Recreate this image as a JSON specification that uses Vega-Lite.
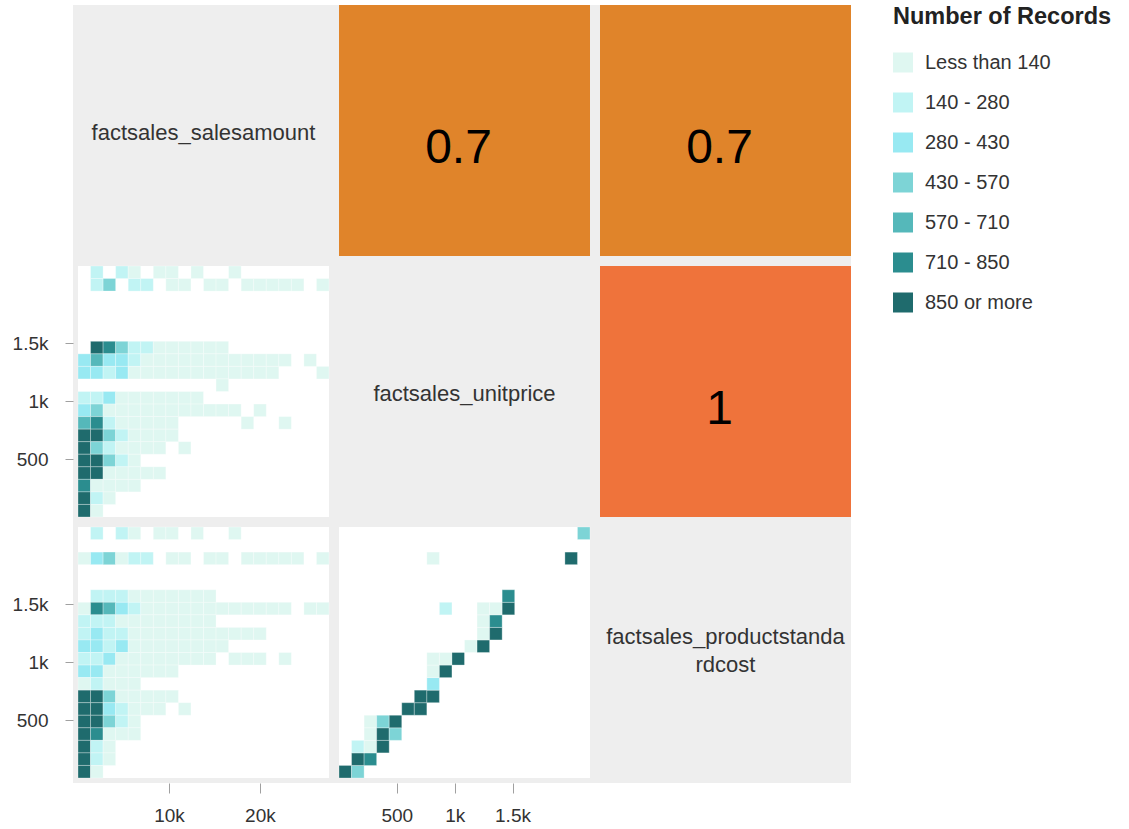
{
  "$schema": "https://vega.github.io/schema/vega-lite/v6.json",
  "padding": {"left": 12, "top": 5, "right": 10, "bottom": 5},
  "bounds": "flush",
  "spacing": 0,
  "columns": 3,
  "config": {
    "font": "Liberation Sans",
    "view": {"fill": "#eeeeee", "stroke": null},
    "axis": {"domain": false, "grid": false, "tickColor": "#a0a0a0", "tickWidth": 1, "labelFont": "Liberation Sans", "labelFontSize": 19, "labelColor": "#333333"},
    "axisLeft": {"tickSize": 8, "labelPadding": 17},
    "axisBottom": {"tickSize": 10, "labelPadding": 13},
    "legend": {"orient": "right", "offset": 42, "padding": 0, "titleFont": "Liberation Sans", "titleFontSize": 23.5, "titleFontWeight": "bold", "titleColor": "#222222", "titlePadding": 24, "titleLimit": 400, "labelFont": "Liberation Sans", "labelFontSize": 20, "labelColor": "#333333", "labelOffset": 12, "labelLimit": 300, "symbolType": "square", "symbolSize": 400, "symbolStrokeWidth": 0, "symbolOpacity": 1, "rowPadding": 20}
  },
  "datasets": {
    "sales_price": [
      {"sales":1380,"sales_end":2760,"price":2061.5,"price_end":2170,"level":"140 - 280"},
      {"sales":4140,"sales_end":5520,"price":2061.5,"price_end":2170,"level":"140 - 280"},
      {"sales":5520,"sales_end":6900,"price":2061.5,"price_end":2170,"level":"Less than 140"},
      {"sales":8280,"sales_end":9660,"price":2061.5,"price_end":2170,"level":"Less than 140"},
      {"sales":9660,"sales_end":11040,"price":2061.5,"price_end":2170,"level":"Less than 140"},
      {"sales":12420,"sales_end":13800,"price":2061.5,"price_end":2170,"level":"Less than 140"},
      {"sales":16560,"sales_end":17940,"price":2061.5,"price_end":2170,"level":"Less than 140"},
      {"sales":1380,"sales_end":2760,"price":1953,"price_end":2061.5,"level":"140 - 280"},
      {"sales":2760,"sales_end":4140,"price":1953,"price_end":2061.5,"level":"430 - 570"},
      {"sales":5520,"sales_end":6900,"price":1953,"price_end":2061.5,"level":"140 - 280"},
      {"sales":6900,"sales_end":8280,"price":1953,"price_end":2061.5,"level":"140 - 280"},
      {"sales":9660,"sales_end":11040,"price":1953,"price_end":2061.5,"level":"Less than 140"},
      {"sales":11040,"sales_end":12420,"price":1953,"price_end":2061.5,"level":"Less than 140"},
      {"sales":13800,"sales_end":15180,"price":1953,"price_end":2061.5,"level":"Less than 140"},
      {"sales":15180,"sales_end":16560,"price":1953,"price_end":2061.5,"level":"Less than 140"},
      {"sales":17940,"sales_end":19320,"price":1953,"price_end":2061.5,"level":"Less than 140"},
      {"sales":19320,"sales_end":20700,"price":1953,"price_end":2061.5,"level":"Less than 140"},
      {"sales":20700,"sales_end":22080,"price":1953,"price_end":2061.5,"level":"Less than 140"},
      {"sales":22080,"sales_end":23460,"price":1953,"price_end":2061.5,"level":"Less than 140"},
      {"sales":23460,"sales_end":24840,"price":1953,"price_end":2061.5,"level":"Less than 140"},
      {"sales":26220,"sales_end":27600,"price":1953,"price_end":2061.5,"level":"Less than 140"},
      {"sales":1380,"sales_end":2760,"price":1410.5,"price_end":1519,"level":"850 or more"},
      {"sales":2760,"sales_end":4140,"price":1410.5,"price_end":1519,"level":"710 - 850"},
      {"sales":4140,"sales_end":5520,"price":1410.5,"price_end":1519,"level":"430 - 570"},
      {"sales":5520,"sales_end":6900,"price":1410.5,"price_end":1519,"level":"140 - 280"},
      {"sales":6900,"sales_end":8280,"price":1410.5,"price_end":1519,"level":"140 - 280"},
      {"sales":8280,"sales_end":9660,"price":1410.5,"price_end":1519,"level":"Less than 140"},
      {"sales":9660,"sales_end":11040,"price":1410.5,"price_end":1519,"level":"Less than 140"},
      {"sales":11040,"sales_end":12420,"price":1410.5,"price_end":1519,"level":"Less than 140"},
      {"sales":12420,"sales_end":13800,"price":1410.5,"price_end":1519,"level":"Less than 140"},
      {"sales":13800,"sales_end":15180,"price":1410.5,"price_end":1519,"level":"Less than 140"},
      {"sales":15180,"sales_end":16560,"price":1410.5,"price_end":1519,"level":"Less than 140"},
      {"sales":0,"sales_end":1380,"price":1302,"price_end":1410.5,"level":"280 - 430"},
      {"sales":1380,"sales_end":2760,"price":1302,"price_end":1410.5,"level":"570 - 710"},
      {"sales":2760,"sales_end":4140,"price":1302,"price_end":1410.5,"level":"280 - 430"},
      {"sales":4140,"sales_end":5520,"price":1302,"price_end":1410.5,"level":"280 - 430"},
      {"sales":5520,"sales_end":6900,"price":1302,"price_end":1410.5,"level":"140 - 280"},
      {"sales":6900,"sales_end":8280,"price":1302,"price_end":1410.5,"level":"Less than 140"},
      {"sales":8280,"sales_end":9660,"price":1302,"price_end":1410.5,"level":"Less than 140"},
      {"sales":9660,"sales_end":11040,"price":1302,"price_end":1410.5,"level":"Less than 140"},
      {"sales":11040,"sales_end":12420,"price":1302,"price_end":1410.5,"level":"Less than 140"},
      {"sales":12420,"sales_end":13800,"price":1302,"price_end":1410.5,"level":"Less than 140"},
      {"sales":13800,"sales_end":15180,"price":1302,"price_end":1410.5,"level":"Less than 140"},
      {"sales":15180,"sales_end":16560,"price":1302,"price_end":1410.5,"level":"Less than 140"},
      {"sales":16560,"sales_end":17940,"price":1302,"price_end":1410.5,"level":"Less than 140"},
      {"sales":17940,"sales_end":19320,"price":1302,"price_end":1410.5,"level":"Less than 140"},
      {"sales":19320,"sales_end":20700,"price":1302,"price_end":1410.5,"level":"Less than 140"},
      {"sales":20700,"sales_end":22080,"price":1302,"price_end":1410.5,"level":"Less than 140"},
      {"sales":22080,"sales_end":23460,"price":1302,"price_end":1410.5,"level":"Less than 140"},
      {"sales":24840,"sales_end":26220,"price":1302,"price_end":1410.5,"level":"Less than 140"},
      {"sales":0,"sales_end":1380,"price":1193.5,"price_end":1302,"level":"280 - 430"},
      {"sales":1380,"sales_end":2760,"price":1193.5,"price_end":1302,"level":"280 - 430"},
      {"sales":2760,"sales_end":4140,"price":1193.5,"price_end":1302,"level":"140 - 280"},
      {"sales":4140,"sales_end":5520,"price":1193.5,"price_end":1302,"level":"280 - 430"},
      {"sales":5520,"sales_end":6900,"price":1193.5,"price_end":1302,"level":"Less than 140"},
      {"sales":6900,"sales_end":8280,"price":1193.5,"price_end":1302,"level":"Less than 140"},
      {"sales":8280,"sales_end":9660,"price":1193.5,"price_end":1302,"level":"Less than 140"},
      {"sales":9660,"sales_end":11040,"price":1193.5,"price_end":1302,"level":"Less than 140"},
      {"sales":11040,"sales_end":12420,"price":1193.5,"price_end":1302,"level":"Less than 140"},
      {"sales":12420,"sales_end":13800,"price":1193.5,"price_end":1302,"level":"Less than 140"},
      {"sales":13800,"sales_end":15180,"price":1193.5,"price_end":1302,"level":"Less than 140"},
      {"sales":15180,"sales_end":16560,"price":1193.5,"price_end":1302,"level":"Less than 140"},
      {"sales":16560,"sales_end":17940,"price":1193.5,"price_end":1302,"level":"Less than 140"},
      {"sales":17940,"sales_end":19320,"price":1193.5,"price_end":1302,"level":"Less than 140"},
      {"sales":19320,"sales_end":20700,"price":1193.5,"price_end":1302,"level":"Less than 140"},
      {"sales":20700,"sales_end":22080,"price":1193.5,"price_end":1302,"level":"Less than 140"},
      {"sales":26220,"sales_end":27600,"price":1193.5,"price_end":1302,"level":"Less than 140"},
      {"sales":15180,"sales_end":16560,"price":1085,"price_end":1193.5,"level":"Less than 140"},
      {"sales":0,"sales_end":1380,"price":976.5,"price_end":1085,"level":"140 - 280"},
      {"sales":1380,"sales_end":2760,"price":976.5,"price_end":1085,"level":"140 - 280"},
      {"sales":2760,"sales_end":4140,"price":976.5,"price_end":1085,"level":"280 - 430"},
      {"sales":4140,"sales_end":5520,"price":976.5,"price_end":1085,"level":"Less than 140"},
      {"sales":5520,"sales_end":6900,"price":976.5,"price_end":1085,"level":"Less than 140"},
      {"sales":6900,"sales_end":8280,"price":976.5,"price_end":1085,"level":"Less than 140"},
      {"sales":8280,"sales_end":9660,"price":976.5,"price_end":1085,"level":"Less than 140"},
      {"sales":9660,"sales_end":11040,"price":976.5,"price_end":1085,"level":"Less than 140"},
      {"sales":11040,"sales_end":12420,"price":976.5,"price_end":1085,"level":"Less than 140"},
      {"sales":12420,"sales_end":13800,"price":976.5,"price_end":1085,"level":"Less than 140"},
      {"sales":0,"sales_end":1380,"price":868,"price_end":976.5,"level":"280 - 430"},
      {"sales":1380,"sales_end":2760,"price":868,"price_end":976.5,"level":"430 - 570"},
      {"sales":2760,"sales_end":4140,"price":868,"price_end":976.5,"level":"Less than 140"},
      {"sales":4140,"sales_end":5520,"price":868,"price_end":976.5,"level":"Less than 140"},
      {"sales":5520,"sales_end":6900,"price":868,"price_end":976.5,"level":"Less than 140"},
      {"sales":6900,"sales_end":8280,"price":868,"price_end":976.5,"level":"Less than 140"},
      {"sales":8280,"sales_end":9660,"price":868,"price_end":976.5,"level":"Less than 140"},
      {"sales":9660,"sales_end":11040,"price":868,"price_end":976.5,"level":"Less than 140"},
      {"sales":11040,"sales_end":12420,"price":868,"price_end":976.5,"level":"Less than 140"},
      {"sales":12420,"sales_end":13800,"price":868,"price_end":976.5,"level":"Less than 140"},
      {"sales":13800,"sales_end":15180,"price":868,"price_end":976.5,"level":"Less than 140"},
      {"sales":15180,"sales_end":16560,"price":868,"price_end":976.5,"level":"Less than 140"},
      {"sales":16560,"sales_end":17940,"price":868,"price_end":976.5,"level":"Less than 140"},
      {"sales":19320,"sales_end":20700,"price":868,"price_end":976.5,"level":"Less than 140"},
      {"sales":0,"sales_end":1380,"price":759.5,"price_end":868,"level":"570 - 710"},
      {"sales":1380,"sales_end":2760,"price":759.5,"price_end":868,"level":"710 - 850"},
      {"sales":2760,"sales_end":4140,"price":759.5,"price_end":868,"level":"140 - 280"},
      {"sales":4140,"sales_end":5520,"price":759.5,"price_end":868,"level":"Less than 140"},
      {"sales":5520,"sales_end":6900,"price":759.5,"price_end":868,"level":"Less than 140"},
      {"sales":6900,"sales_end":8280,"price":759.5,"price_end":868,"level":"Less than 140"},
      {"sales":8280,"sales_end":9660,"price":759.5,"price_end":868,"level":"Less than 140"},
      {"sales":9660,"sales_end":11040,"price":759.5,"price_end":868,"level":"Less than 140"},
      {"sales":17940,"sales_end":19320,"price":759.5,"price_end":868,"level":"Less than 140"},
      {"sales":22080,"sales_end":23460,"price":759.5,"price_end":868,"level":"Less than 140"},
      {"sales":0,"sales_end":1380,"price":651,"price_end":759.5,"level":"850 or more"},
      {"sales":1380,"sales_end":2760,"price":651,"price_end":759.5,"level":"850 or more"},
      {"sales":2760,"sales_end":4140,"price":651,"price_end":759.5,"level":"430 - 570"},
      {"sales":4140,"sales_end":5520,"price":651,"price_end":759.5,"level":"140 - 280"},
      {"sales":5520,"sales_end":6900,"price":651,"price_end":759.5,"level":"Less than 140"},
      {"sales":6900,"sales_end":8280,"price":651,"price_end":759.5,"level":"Less than 140"},
      {"sales":8280,"sales_end":9660,"price":651,"price_end":759.5,"level":"Less than 140"},
      {"sales":9660,"sales_end":11040,"price":651,"price_end":759.5,"level":"Less than 140"},
      {"sales":0,"sales_end":1380,"price":542.5,"price_end":651,"level":"850 or more"},
      {"sales":1380,"sales_end":2760,"price":542.5,"price_end":651,"level":"430 - 570"},
      {"sales":2760,"sales_end":4140,"price":542.5,"price_end":651,"level":"140 - 280"},
      {"sales":4140,"sales_end":5520,"price":542.5,"price_end":651,"level":"Less than 140"},
      {"sales":5520,"sales_end":6900,"price":542.5,"price_end":651,"level":"Less than 140"},
      {"sales":6900,"sales_end":8280,"price":542.5,"price_end":651,"level":"Less than 140"},
      {"sales":8280,"sales_end":9660,"price":542.5,"price_end":651,"level":"Less than 140"},
      {"sales":11040,"sales_end":12420,"price":542.5,"price_end":651,"level":"Less than 140"},
      {"sales":0,"sales_end":1380,"price":434,"price_end":542.5,"level":"850 or more"},
      {"sales":1380,"sales_end":2760,"price":434,"price_end":542.5,"level":"850 or more"},
      {"sales":2760,"sales_end":4140,"price":434,"price_end":542.5,"level":"430 - 570"},
      {"sales":4140,"sales_end":5520,"price":434,"price_end":542.5,"level":"140 - 280"},
      {"sales":5520,"sales_end":6900,"price":434,"price_end":542.5,"level":"Less than 140"},
      {"sales":0,"sales_end":1380,"price":325.5,"price_end":434,"level":"850 or more"},
      {"sales":1380,"sales_end":2760,"price":325.5,"price_end":434,"level":"850 or more"},
      {"sales":2760,"sales_end":4140,"price":325.5,"price_end":434,"level":"Less than 140"},
      {"sales":4140,"sales_end":5520,"price":325.5,"price_end":434,"level":"Less than 140"},
      {"sales":5520,"sales_end":6900,"price":325.5,"price_end":434,"level":"Less than 140"},
      {"sales":6900,"sales_end":8280,"price":325.5,"price_end":434,"level":"Less than 140"},
      {"sales":8280,"sales_end":9660,"price":325.5,"price_end":434,"level":"Less than 140"},
      {"sales":0,"sales_end":1380,"price":217,"price_end":325.5,"level":"710 - 850"},
      {"sales":1380,"sales_end":2760,"price":217,"price_end":325.5,"level":"Less than 140"},
      {"sales":2760,"sales_end":4140,"price":217,"price_end":325.5,"level":"Less than 140"},
      {"sales":4140,"sales_end":5520,"price":217,"price_end":325.5,"level":"Less than 140"},
      {"sales":5520,"sales_end":6900,"price":217,"price_end":325.5,"level":"Less than 140"},
      {"sales":0,"sales_end":1380,"price":108.5,"price_end":217,"level":"850 or more"},
      {"sales":1380,"sales_end":2760,"price":108.5,"price_end":217,"level":"140 - 280"},
      {"sales":2760,"sales_end":4140,"price":108.5,"price_end":217,"level":"Less than 140"},
      {"sales":0,"sales_end":1380,"price":0,"price_end":108.5,"level":"850 or more"},
      {"sales":1380,"sales_end":2760,"price":0,"price_end":108.5,"level":"Less than 140"}
    ],
    "sales_cost": [
      {"sales":1380,"sales_end":2760,"cost":2061.5,"cost_end":2170,"level":"140 - 280"},
      {"sales":4140,"sales_end":5520,"cost":2061.5,"cost_end":2170,"level":"140 - 280"},
      {"sales":5520,"sales_end":6900,"cost":2061.5,"cost_end":2170,"level":"Less than 140"},
      {"sales":8280,"sales_end":9660,"cost":2061.5,"cost_end":2170,"level":"Less than 140"},
      {"sales":9660,"sales_end":11040,"cost":2061.5,"cost_end":2170,"level":"Less than 140"},
      {"sales":12420,"sales_end":13800,"cost":2061.5,"cost_end":2170,"level":"Less than 140"},
      {"sales":16560,"sales_end":17940,"cost":2061.5,"cost_end":2170,"level":"Less than 140"},
      {"sales":0,"sales_end":1380,"cost":1844.5,"cost_end":1953,"level":"Less than 140"},
      {"sales":1380,"sales_end":2760,"cost":1844.5,"cost_end":1953,"level":"280 - 430"},
      {"sales":2760,"sales_end":4140,"cost":1844.5,"cost_end":1953,"level":"430 - 570"},
      {"sales":4140,"sales_end":5520,"cost":1844.5,"cost_end":1953,"level":"Less than 140"},
      {"sales":5520,"sales_end":6900,"cost":1844.5,"cost_end":1953,"level":"140 - 280"},
      {"sales":6900,"sales_end":8280,"cost":1844.5,"cost_end":1953,"level":"140 - 280"},
      {"sales":9660,"sales_end":11040,"cost":1844.5,"cost_end":1953,"level":"Less than 140"},
      {"sales":11040,"sales_end":12420,"cost":1844.5,"cost_end":1953,"level":"Less than 140"},
      {"sales":13800,"sales_end":15180,"cost":1844.5,"cost_end":1953,"level":"Less than 140"},
      {"sales":15180,"sales_end":16560,"cost":1844.5,"cost_end":1953,"level":"Less than 140"},
      {"sales":17940,"sales_end":19320,"cost":1844.5,"cost_end":1953,"level":"Less than 140"},
      {"sales":19320,"sales_end":20700,"cost":1844.5,"cost_end":1953,"level":"Less than 140"},
      {"sales":20700,"sales_end":22080,"cost":1844.5,"cost_end":1953,"level":"Less than 140"},
      {"sales":22080,"sales_end":23460,"cost":1844.5,"cost_end":1953,"level":"Less than 140"},
      {"sales":23460,"sales_end":24840,"cost":1844.5,"cost_end":1953,"level":"Less than 140"},
      {"sales":26220,"sales_end":27600,"cost":1844.5,"cost_end":1953,"level":"Less than 140"},
      {"sales":1380,"sales_end":2760,"cost":1519,"cost_end":1627.5,"level":"140 - 280"},
      {"sales":2760,"sales_end":4140,"cost":1519,"cost_end":1627.5,"level":"140 - 280"},
      {"sales":4140,"sales_end":5520,"cost":1519,"cost_end":1627.5,"level":"140 - 280"},
      {"sales":5520,"sales_end":6900,"cost":1519,"cost_end":1627.5,"level":"Less than 140"},
      {"sales":6900,"sales_end":8280,"cost":1519,"cost_end":1627.5,"level":"Less than 140"},
      {"sales":8280,"sales_end":9660,"cost":1519,"cost_end":1627.5,"level":"Less than 140"},
      {"sales":9660,"sales_end":11040,"cost":1519,"cost_end":1627.5,"level":"Less than 140"},
      {"sales":11040,"sales_end":12420,"cost":1519,"cost_end":1627.5,"level":"Less than 140"},
      {"sales":12420,"sales_end":13800,"cost":1519,"cost_end":1627.5,"level":"Less than 140"},
      {"sales":13800,"sales_end":15180,"cost":1519,"cost_end":1627.5,"level":"Less than 140"},
      {"sales":0,"sales_end":1380,"cost":1410.5,"cost_end":1519,"level":"Less than 140"},
      {"sales":1380,"sales_end":2760,"cost":1410.5,"cost_end":1519,"level":"710 - 850"},
      {"sales":2760,"sales_end":4140,"cost":1410.5,"cost_end":1519,"level":"570 - 710"},
      {"sales":4140,"sales_end":5520,"cost":1410.5,"cost_end":1519,"level":"280 - 430"},
      {"sales":5520,"sales_end":6900,"cost":1410.5,"cost_end":1519,"level":"140 - 280"},
      {"sales":6900,"sales_end":8280,"cost":1410.5,"cost_end":1519,"level":"Less than 140"},
      {"sales":8280,"sales_end":9660,"cost":1410.5,"cost_end":1519,"level":"Less than 140"},
      {"sales":9660,"sales_end":11040,"cost":1410.5,"cost_end":1519,"level":"Less than 140"},
      {"sales":11040,"sales_end":12420,"cost":1410.5,"cost_end":1519,"level":"Less than 140"},
      {"sales":12420,"sales_end":13800,"cost":1410.5,"cost_end":1519,"level":"Less than 140"},
      {"sales":13800,"sales_end":15180,"cost":1410.5,"cost_end":1519,"level":"Less than 140"},
      {"sales":15180,"sales_end":16560,"cost":1410.5,"cost_end":1519,"level":"Less than 140"},
      {"sales":16560,"sales_end":17940,"cost":1410.5,"cost_end":1519,"level":"Less than 140"},
      {"sales":17940,"sales_end":19320,"cost":1410.5,"cost_end":1519,"level":"Less than 140"},
      {"sales":19320,"sales_end":20700,"cost":1410.5,"cost_end":1519,"level":"Less than 140"},
      {"sales":20700,"sales_end":22080,"cost":1410.5,"cost_end":1519,"level":"Less than 140"},
      {"sales":22080,"sales_end":23460,"cost":1410.5,"cost_end":1519,"level":"Less than 140"},
      {"sales":24840,"sales_end":26220,"cost":1410.5,"cost_end":1519,"level":"Less than 140"},
      {"sales":26220,"sales_end":27600,"cost":1410.5,"cost_end":1519,"level":"Less than 140"},
      {"sales":0,"sales_end":1380,"cost":1302,"cost_end":1410.5,"level":"140 - 280"},
      {"sales":1380,"sales_end":2760,"cost":1302,"cost_end":1410.5,"level":"140 - 280"},
      {"sales":2760,"sales_end":4140,"cost":1302,"cost_end":1410.5,"level":"140 - 280"},
      {"sales":4140,"sales_end":5520,"cost":1302,"cost_end":1410.5,"level":"Less than 140"},
      {"sales":5520,"sales_end":6900,"cost":1302,"cost_end":1410.5,"level":"Less than 140"},
      {"sales":6900,"sales_end":8280,"cost":1302,"cost_end":1410.5,"level":"Less than 140"},
      {"sales":8280,"sales_end":9660,"cost":1302,"cost_end":1410.5,"level":"Less than 140"},
      {"sales":9660,"sales_end":11040,"cost":1302,"cost_end":1410.5,"level":"Less than 140"},
      {"sales":11040,"sales_end":12420,"cost":1302,"cost_end":1410.5,"level":"Less than 140"},
      {"sales":12420,"sales_end":13800,"cost":1302,"cost_end":1410.5,"level":"Less than 140"},
      {"sales":13800,"sales_end":15180,"cost":1302,"cost_end":1410.5,"level":"Less than 140"},
      {"sales":0,"sales_end":1380,"cost":1193.5,"cost_end":1302,"level":"140 - 280"},
      {"sales":1380,"sales_end":2760,"cost":1193.5,"cost_end":1302,"level":"280 - 430"},
      {"sales":2760,"sales_end":4140,"cost":1193.5,"cost_end":1302,"level":"140 - 280"},
      {"sales":4140,"sales_end":5520,"cost":1193.5,"cost_end":1302,"level":"140 - 280"},
      {"sales":5520,"sales_end":6900,"cost":1193.5,"cost_end":1302,"level":"Less than 140"},
      {"sales":6900,"sales_end":8280,"cost":1193.5,"cost_end":1302,"level":"Less than 140"},
      {"sales":8280,"sales_end":9660,"cost":1193.5,"cost_end":1302,"level":"Less than 140"},
      {"sales":9660,"sales_end":11040,"cost":1193.5,"cost_end":1302,"level":"Less than 140"},
      {"sales":11040,"sales_end":12420,"cost":1193.5,"cost_end":1302,"level":"Less than 140"},
      {"sales":12420,"sales_end":13800,"cost":1193.5,"cost_end":1302,"level":"Less than 140"},
      {"sales":13800,"sales_end":15180,"cost":1193.5,"cost_end":1302,"level":"Less than 140"},
      {"sales":15180,"sales_end":16560,"cost":1193.5,"cost_end":1302,"level":"Less than 140"},
      {"sales":16560,"sales_end":17940,"cost":1193.5,"cost_end":1302,"level":"Less than 140"},
      {"sales":17940,"sales_end":19320,"cost":1193.5,"cost_end":1302,"level":"Less than 140"},
      {"sales":19320,"sales_end":20700,"cost":1193.5,"cost_end":1302,"level":"Less than 140"},
      {"sales":0,"sales_end":1380,"cost":1085,"cost_end":1193.5,"level":"280 - 430"},
      {"sales":1380,"sales_end":2760,"cost":1085,"cost_end":1193.5,"level":"280 - 430"},
      {"sales":2760,"sales_end":4140,"cost":1085,"cost_end":1193.5,"level":"140 - 280"},
      {"sales":4140,"sales_end":5520,"cost":1085,"cost_end":1193.5,"level":"280 - 430"},
      {"sales":5520,"sales_end":6900,"cost":1085,"cost_end":1193.5,"level":"Less than 140"},
      {"sales":6900,"sales_end":8280,"cost":1085,"cost_end":1193.5,"level":"Less than 140"},
      {"sales":8280,"sales_end":9660,"cost":1085,"cost_end":1193.5,"level":"Less than 140"},
      {"sales":9660,"sales_end":11040,"cost":1085,"cost_end":1193.5,"level":"Less than 140"},
      {"sales":11040,"sales_end":12420,"cost":1085,"cost_end":1193.5,"level":"Less than 140"},
      {"sales":12420,"sales_end":13800,"cost":1085,"cost_end":1193.5,"level":"Less than 140"},
      {"sales":13800,"sales_end":15180,"cost":1085,"cost_end":1193.5,"level":"Less than 140"},
      {"sales":15180,"sales_end":16560,"cost":1085,"cost_end":1193.5,"level":"Less than 140"},
      {"sales":0,"sales_end":1380,"cost":976.5,"cost_end":1085,"level":"140 - 280"},
      {"sales":1380,"sales_end":2760,"cost":976.5,"cost_end":1085,"level":"140 - 280"},
      {"sales":2760,"sales_end":4140,"cost":976.5,"cost_end":1085,"level":"280 - 430"},
      {"sales":4140,"sales_end":5520,"cost":976.5,"cost_end":1085,"level":"Less than 140"},
      {"sales":5520,"sales_end":6900,"cost":976.5,"cost_end":1085,"level":"Less than 140"},
      {"sales":6900,"sales_end":8280,"cost":976.5,"cost_end":1085,"level":"Less than 140"},
      {"sales":8280,"sales_end":9660,"cost":976.5,"cost_end":1085,"level":"Less than 140"},
      {"sales":9660,"sales_end":11040,"cost":976.5,"cost_end":1085,"level":"Less than 140"},
      {"sales":11040,"sales_end":12420,"cost":976.5,"cost_end":1085,"level":"Less than 140"},
      {"sales":12420,"sales_end":13800,"cost":976.5,"cost_end":1085,"level":"Less than 140"},
      {"sales":13800,"sales_end":15180,"cost":976.5,"cost_end":1085,"level":"Less than 140"},
      {"sales":16560,"sales_end":17940,"cost":976.5,"cost_end":1085,"level":"Less than 140"},
      {"sales":17940,"sales_end":19320,"cost":976.5,"cost_end":1085,"level":"Less than 140"},
      {"sales":19320,"sales_end":20700,"cost":976.5,"cost_end":1085,"level":"Less than 140"},
      {"sales":22080,"sales_end":23460,"cost":976.5,"cost_end":1085,"level":"Less than 140"},
      {"sales":0,"sales_end":1380,"cost":868,"cost_end":976.5,"level":"280 - 430"},
      {"sales":1380,"sales_end":2760,"cost":868,"cost_end":976.5,"level":"280 - 430"},
      {"sales":2760,"sales_end":4140,"cost":868,"cost_end":976.5,"level":"Less than 140"},
      {"sales":4140,"sales_end":5520,"cost":868,"cost_end":976.5,"level":"Less than 140"},
      {"sales":5520,"sales_end":6900,"cost":868,"cost_end":976.5,"level":"Less than 140"},
      {"sales":6900,"sales_end":8280,"cost":868,"cost_end":976.5,"level":"Less than 140"},
      {"sales":8280,"sales_end":9660,"cost":868,"cost_end":976.5,"level":"Less than 140"},
      {"sales":9660,"sales_end":11040,"cost":868,"cost_end":976.5,"level":"Less than 140"},
      {"sales":0,"sales_end":1380,"cost":759.5,"cost_end":868,"level":"Less than 140"},
      {"sales":1380,"sales_end":2760,"cost":759.5,"cost_end":868,"level":"140 - 280"},
      {"sales":2760,"sales_end":4140,"cost":759.5,"cost_end":868,"level":"Less than 140"},
      {"sales":4140,"sales_end":5520,"cost":759.5,"cost_end":868,"level":"Less than 140"},
      {"sales":5520,"sales_end":6900,"cost":759.5,"cost_end":868,"level":"Less than 140"},
      {"sales":0,"sales_end":1380,"cost":651,"cost_end":759.5,"level":"850 or more"},
      {"sales":1380,"sales_end":2760,"cost":651,"cost_end":759.5,"level":"850 or more"},
      {"sales":2760,"sales_end":4140,"cost":651,"cost_end":759.5,"level":"430 - 570"},
      {"sales":4140,"sales_end":5520,"cost":651,"cost_end":759.5,"level":"Less than 140"},
      {"sales":5520,"sales_end":6900,"cost":651,"cost_end":759.5,"level":"Less than 140"},
      {"sales":6900,"sales_end":8280,"cost":651,"cost_end":759.5,"level":"Less than 140"},
      {"sales":8280,"sales_end":9660,"cost":651,"cost_end":759.5,"level":"Less than 140"},
      {"sales":9660,"sales_end":11040,"cost":651,"cost_end":759.5,"level":"Less than 140"},
      {"sales":0,"sales_end":1380,"cost":542.5,"cost_end":651,"level":"850 or more"},
      {"sales":1380,"sales_end":2760,"cost":542.5,"cost_end":651,"level":"850 or more"},
      {"sales":2760,"sales_end":4140,"cost":542.5,"cost_end":651,"level":"280 - 430"},
      {"sales":4140,"sales_end":5520,"cost":542.5,"cost_end":651,"level":"140 - 280"},
      {"sales":5520,"sales_end":6900,"cost":542.5,"cost_end":651,"level":"Less than 140"},
      {"sales":6900,"sales_end":8280,"cost":542.5,"cost_end":651,"level":"Less than 140"},
      {"sales":8280,"sales_end":9660,"cost":542.5,"cost_end":651,"level":"Less than 140"},
      {"sales":11040,"sales_end":12420,"cost":542.5,"cost_end":651,"level":"Less than 140"},
      {"sales":0,"sales_end":1380,"cost":434,"cost_end":542.5,"level":"850 or more"},
      {"sales":1380,"sales_end":2760,"cost":434,"cost_end":542.5,"level":"850 or more"},
      {"sales":2760,"sales_end":4140,"cost":434,"cost_end":542.5,"level":"430 - 570"},
      {"sales":4140,"sales_end":5520,"cost":434,"cost_end":542.5,"level":"140 - 280"},
      {"sales":5520,"sales_end":6900,"cost":434,"cost_end":542.5,"level":"Less than 140"},
      {"sales":0,"sales_end":1380,"cost":325.5,"cost_end":434,"level":"850 or more"},
      {"sales":1380,"sales_end":2760,"cost":325.5,"cost_end":434,"level":"710 - 850"},
      {"sales":2760,"sales_end":4140,"cost":325.5,"cost_end":434,"level":"Less than 140"},
      {"sales":4140,"sales_end":5520,"cost":325.5,"cost_end":434,"level":"Less than 140"},
      {"sales":5520,"sales_end":6900,"cost":325.5,"cost_end":434,"level":"Less than 140"},
      {"sales":0,"sales_end":1380,"cost":217,"cost_end":325.5,"level":"850 or more"},
      {"sales":1380,"sales_end":2760,"cost":217,"cost_end":325.5,"level":"140 - 280"},
      {"sales":2760,"sales_end":4140,"cost":217,"cost_end":325.5,"level":"Less than 140"},
      {"sales":0,"sales_end":1380,"cost":108.5,"cost_end":217,"level":"850 or more"},
      {"sales":1380,"sales_end":2760,"cost":108.5,"cost_end":217,"level":"140 - 280"},
      {"sales":2760,"sales_end":4140,"cost":108.5,"cost_end":217,"level":"Less than 140"},
      {"sales":0,"sales_end":1380,"cost":0,"cost_end":108.5,"level":"850 or more"},
      {"sales":1380,"sales_end":2760,"cost":0,"cost_end":108.5,"level":"Less than 140"}
    ],
    "price_cost": [
      {"price":0,"price_end":108.5,"cost":0,"cost_end":108.5,"level":"850 or more"},
      {"price":108.5,"price_end":217,"cost":0,"cost_end":108.5,"level":"430 - 570"},
      {"price":108.5,"price_end":217,"cost":108.5,"cost_end":217,"level":"850 or more"},
      {"price":217,"price_end":325.5,"cost":108.5,"cost_end":217,"level":"710 - 850"},
      {"price":108.5,"price_end":217,"cost":217,"cost_end":325.5,"level":"140 - 280"},
      {"price":217,"price_end":325.5,"cost":217,"cost_end":325.5,"level":"Less than 140"},
      {"price":325.5,"price_end":434,"cost":217,"cost_end":325.5,"level":"850 or more"},
      {"price":217,"price_end":325.5,"cost":325.5,"cost_end":434,"level":"Less than 140"},
      {"price":325.5,"price_end":434,"cost":325.5,"cost_end":434,"level":"850 or more"},
      {"price":434,"price_end":542.5,"cost":325.5,"cost_end":434,"level":"430 - 570"},
      {"price":217,"price_end":325.5,"cost":434,"cost_end":542.5,"level":"Less than 140"},
      {"price":325.5,"price_end":434,"cost":434,"cost_end":542.5,"level":"430 - 570"},
      {"price":434,"price_end":542.5,"cost":434,"cost_end":542.5,"level":"850 or more"},
      {"price":542.5,"price_end":651,"cost":542.5,"cost_end":651,"level":"850 or more"},
      {"price":651,"price_end":759.5,"cost":542.5,"cost_end":651,"level":"850 or more"},
      {"price":651,"price_end":759.5,"cost":651,"cost_end":759.5,"level":"850 or more"},
      {"price":759.5,"price_end":868,"cost":651,"cost_end":759.5,"level":"850 or more"},
      {"price":759.5,"price_end":868,"cost":759.5,"cost_end":868,"level":"280 - 430"},
      {"price":759.5,"price_end":868,"cost":868,"cost_end":976.5,"level":"Less than 140"},
      {"price":868,"price_end":976.5,"cost":868,"cost_end":976.5,"level":"850 or more"},
      {"price":759.5,"price_end":868,"cost":976.5,"cost_end":1085,"level":"Less than 140"},
      {"price":868,"price_end":976.5,"cost":976.5,"cost_end":1085,"level":"Less than 140"},
      {"price":976.5,"price_end":1085,"cost":976.5,"cost_end":1085,"level":"850 or more"},
      {"price":1085,"price_end":1193.5,"cost":1085,"cost_end":1193.5,"level":"Less than 140"},
      {"price":1193.5,"price_end":1302,"cost":1085,"cost_end":1193.5,"level":"850 or more"},
      {"price":1193.5,"price_end":1302,"cost":1193.5,"cost_end":1302,"level":"Less than 140"},
      {"price":1302,"price_end":1410.5,"cost":1193.5,"cost_end":1302,"level":"850 or more"},
      {"price":1193.5,"price_end":1302,"cost":1302,"cost_end":1410.5,"level":"Less than 140"},
      {"price":1302,"price_end":1410.5,"cost":1302,"cost_end":1410.5,"level":"710 - 850"},
      {"price":868,"price_end":976.5,"cost":1410.5,"cost_end":1519,"level":"140 - 280"},
      {"price":1193.5,"price_end":1302,"cost":1410.5,"cost_end":1519,"level":"Less than 140"},
      {"price":1302,"price_end":1410.5,"cost":1410.5,"cost_end":1519,"level":"Less than 140"},
      {"price":1410.5,"price_end":1519,"cost":1410.5,"cost_end":1519,"level":"850 or more"},
      {"price":1410.5,"price_end":1519,"cost":1519,"cost_end":1627.5,"level":"710 - 850"},
      {"price":759.5,"price_end":868,"cost":1844.5,"cost_end":1953,"level":"Less than 140"},
      {"price":1953,"price_end":2061.5,"cost":1844.5,"cost_end":1953,"level":"850 or more"},
      {"price":2061.5,"price_end":2170,"cost":2061.5,"cost_end":2170,"level":"430 - 570"}
    ]
  },
  "concat": [
    {
      "width": 261, "height": 261,
      "data": {"values": [{"variable": "factsales_salesamount"}]},
      "mark": {"type": "text", "fontSize": 22, "color": "#333333", "dy": 2},
      "encoding": {
        "x": {"datum": 0.5, "type": "quantitative", "scale": {"domain": [0, 1], "range": [5, 256]}, "axis": null},
        "y": {"datum": 0.5, "type": "quantitative", "scale": {"domain": [0, 1], "range": [251, 0]}, "axis": null},
        "text": {"field": "variable"}
      }
    },
    {
      "width": 261, "height": 261,
      "data": {"values": [{"correlation": 0.7}]},
      "layer": [
        {
          "mark": {"type": "rect"},
          "encoding": {
            "x": {"datum": 0, "type": "quantitative", "scale": {"domain": [0, 1], "range": [5, 256]}, "axis": null},
            "x2": {"datum": 1},
            "y": {"datum": 0, "type": "quantitative", "scale": {"domain": [0, 1], "range": [251, 0]}, "axis": null},
            "y2": {"datum": 1},
            "fill": {"field": "correlation", "type": "quantitative", "scale": {"domain": [0.7, 1], "range": ["#e0842a", "#ef733b"]}, "legend": null}
          }
        },
        {
          "mark": {"type": "text", "fontSize": 48, "color": "#000000", "dx": -6, "dy": 18},
          "encoding": {
            "x": {"datum": 0.5, "type": "quantitative", "scale": {"domain": [0, 1], "range": [5, 256]}, "axis": null},
            "y": {"datum": 0.5, "type": "quantitative", "scale": {"domain": [0, 1], "range": [251, 0]}, "axis": null},
            "text": {"field": "correlation", "type": "quantitative", "format": "~g"}
          }
        }
      ]
    },
    {
      "width": 256, "height": 261,
      "data": {"values": [{"correlation": 0.7}]},
      "layer": [
        {
          "mark": {"type": "rect"},
          "encoding": {
            "x": {"datum": 0, "type": "quantitative", "scale": {"domain": [0, 1], "range": [5, 256]}, "axis": null},
            "x2": {"datum": 1},
            "y": {"datum": 0, "type": "quantitative", "scale": {"domain": [0, 1], "range": [251, 0]}, "axis": null},
            "y2": {"datum": 1},
            "fill": {"field": "correlation", "type": "quantitative", "scale": {"domain": [0.7, 1], "range": ["#e0842a", "#ef733b"]}, "legend": null}
          }
        },
        {
          "mark": {"type": "text", "fontSize": 48, "color": "#000000", "dx": -6, "dy": 18},
          "encoding": {
            "x": {"datum": 0.5, "type": "quantitative", "scale": {"domain": [0, 1], "range": [5, 256]}, "axis": null},
            "y": {"datum": 0.5, "type": "quantitative", "scale": {"domain": [0, 1], "range": [251, 0]}, "axis": null},
            "text": {"field": "correlation", "type": "quantitative", "format": "~g"}
          }
        }
      ]
    },
    {
      "width": 261, "height": 261,
      "layer": [
        {
          "data": {"values": [{}]},
          "mark": {"type": "rect", "color": "#ffffff"},
          "encoding": {
            "x": {"datum": 0, "type": "quantitative", "scale": {"domain": [0, 27600], "range": [5, 256], "nice": false, "zero": false}, "axis": null},
            "x2": {"datum": 27600},
            "y": {"datum": 0, "type": "quantitative", "scale": {"domain": [0, 2170], "range": [251, 0], "nice": false, "zero": false}, "axis": {"values": [500, 1000, 1500], "format": ".2~s", "title": null}},
            "y2": {"datum": 2170}
          }
        },
        {
          "data": {"name": "sales_price"},
          "mark": {"type": "rect", "stroke": "#ffffff", "strokeWidth": 0.6, "strokeOpacity": 0.5},
          "encoding": {
            "x": {"field": "sales", "type": "quantitative", "scale": {"domain": [0, 27600], "range": [5, 256], "nice": false, "zero": false}, "axis": null},
            "x2": {"field": "sales_end"},
            "y": {"field": "price", "type": "quantitative", "scale": {"domain": [0, 2170], "range": [251, 0], "nice": false, "zero": false}, "axis": {"values": [500, 1000, 1500], "format": ".2~s", "title": null}},
            "y2": {"field": "price_end"},
            "color": {"field": "level", "type": "ordinal", "title": "Number of Records",
              "scale": {"domain": ["Less than 140", "140 - 280", "280 - 430", "430 - 570", "570 - 710", "710 - 850", "850 or more"], "range": ["#dff7f1", "#c1f4f4", "#98e9f2", "#7dd4d6", "#55b8ba", "#2b8d8f", "#1f6b6d"]}}
          }
        }
      ]
    },
    {
      "width": 261, "height": 261,
      "data": {"values": [{"variable": "factsales_unitprice"}]},
      "mark": {"type": "text", "fontSize": 22, "color": "#333333", "dy": 2},
      "encoding": {
        "x": {"datum": 0.5, "type": "quantitative", "scale": {"domain": [0, 1], "range": [5, 256]}, "axis": null},
        "y": {"datum": 0.5, "type": "quantitative", "scale": {"domain": [0, 1], "range": [251, 0]}, "axis": null},
        "text": {"field": "variable"}
      }
    },
    {
      "width": 256, "height": 261,
      "data": {"values": [{"correlation": 1}]},
      "layer": [
        {
          "mark": {"type": "rect"},
          "encoding": {
            "x": {"datum": 0, "type": "quantitative", "scale": {"domain": [0, 1], "range": [5, 256]}, "axis": null},
            "x2": {"datum": 1},
            "y": {"datum": 0, "type": "quantitative", "scale": {"domain": [0, 1], "range": [251, 0]}, "axis": null},
            "y2": {"datum": 1},
            "fill": {"field": "correlation", "type": "quantitative", "scale": {"domain": [0.7, 1], "range": ["#e0842a", "#ef733b"]}, "legend": null}
          }
        },
        {
          "mark": {"type": "text", "fontSize": 48, "color": "#000000", "dx": -6, "dy": 18},
          "encoding": {
            "x": {"datum": 0.5, "type": "quantitative", "scale": {"domain": [0, 1], "range": [5, 256]}, "axis": null},
            "y": {"datum": 0.5, "type": "quantitative", "scale": {"domain": [0, 1], "range": [251, 0]}, "axis": null},
            "text": {"field": "correlation", "type": "quantitative", "format": "~g"}
          }
        }
      ]
    },
    {
      "width": 261, "height": 256,
      "layer": [
        {
          "data": {"values": [{}]},
          "mark": {"type": "rect", "color": "#ffffff"},
          "encoding": {
            "x": {"datum": 0, "type": "quantitative", "scale": {"domain": [0, 27600], "range": [5, 256], "nice": false, "zero": false}, "axis": {"values": [10000, 20000], "format": ".2~s", "title": null}},
            "x2": {"datum": 27600},
            "y": {"datum": 0, "type": "quantitative", "scale": {"domain": [0, 2170], "range": [251, 0], "nice": false, "zero": false}, "axis": {"values": [500, 1000, 1500], "format": ".2~s", "title": null}},
            "y2": {"datum": 2170}
          }
        },
        {
          "data": {"name": "sales_cost"},
          "mark": {"type": "rect", "stroke": "#ffffff", "strokeWidth": 0.6, "strokeOpacity": 0.5},
          "encoding": {
            "x": {"field": "sales", "type": "quantitative", "scale": {"domain": [0, 27600], "range": [5, 256], "nice": false, "zero": false}, "axis": {"values": [10000, 20000], "format": ".2~s", "title": null}},
            "x2": {"field": "sales_end"},
            "y": {"field": "cost", "type": "quantitative", "scale": {"domain": [0, 2170], "range": [251, 0], "nice": false, "zero": false}, "axis": {"values": [500, 1000, 1500], "format": ".2~s", "title": null}},
            "y2": {"field": "cost_end"},
            "color": {"field": "level", "type": "ordinal", "title": "Number of Records",
              "scale": {"domain": ["Less than 140", "140 - 280", "280 - 430", "430 - 570", "570 - 710", "710 - 850", "850 or more"], "range": ["#dff7f1", "#c1f4f4", "#98e9f2", "#7dd4d6", "#55b8ba", "#2b8d8f", "#1f6b6d"]}}
          }
        }
      ]
    },
    {
      "width": 261, "height": 256,
      "layer": [
        {
          "data": {"values": [{}]},
          "mark": {"type": "rect", "color": "#ffffff"},
          "encoding": {
            "x": {"datum": 0, "type": "quantitative", "scale": {"domain": [0, 2170], "range": [5, 256], "nice": false, "zero": false}, "axis": {"values": [500, 1000, 1500], "format": ".2~s", "title": null}},
            "x2": {"datum": 2170},
            "y": {"datum": 0, "type": "quantitative", "scale": {"domain": [0, 2170], "range": [251, 0], "nice": false, "zero": false}, "axis": null},
            "y2": {"datum": 2170}
          }
        },
        {
          "data": {"name": "price_cost"},
          "mark": {"type": "rect", "stroke": "#ffffff", "strokeWidth": 0.6, "strokeOpacity": 0.5},
          "encoding": {
            "x": {"field": "price", "type": "quantitative", "scale": {"domain": [0, 2170], "range": [5, 256], "nice": false, "zero": false}, "axis": {"values": [500, 1000, 1500], "format": ".2~s", "title": null}},
            "x2": {"field": "price_end"},
            "y": {"field": "cost", "type": "quantitative", "scale": {"domain": [0, 2170], "range": [251, 0], "nice": false, "zero": false}, "axis": null},
            "y2": {"field": "cost_end"},
            "color": {"field": "level", "type": "ordinal", "title": "Number of Records",
              "scale": {"domain": ["Less than 140", "140 - 280", "280 - 430", "430 - 570", "570 - 710", "710 - 850", "850 or more"], "range": ["#dff7f1", "#c1f4f4", "#98e9f2", "#7dd4d6", "#55b8ba", "#2b8d8f", "#1f6b6d"]}}
          }
        }
      ]
    },
    {
      "width": 256, "height": 256,
      "data": {"values": [{"variable": "factsales_productstanda\nrdcost"}]},
      "mark": {"type": "text", "fontSize": 22, "color": "#333333", "lineBreak": "\n", "lineHeight": 28, "dy": -16},
      "encoding": {
        "x": {"datum": 0.5, "type": "quantitative", "scale": {"domain": [0, 1], "range": [5, 256]}, "axis": null},
        "y": {"datum": 0.5, "type": "quantitative", "scale": {"domain": [0, 1], "range": [251, 0]}, "axis": null},
        "text": {"field": "variable"}
      }
    }
  ]
}
